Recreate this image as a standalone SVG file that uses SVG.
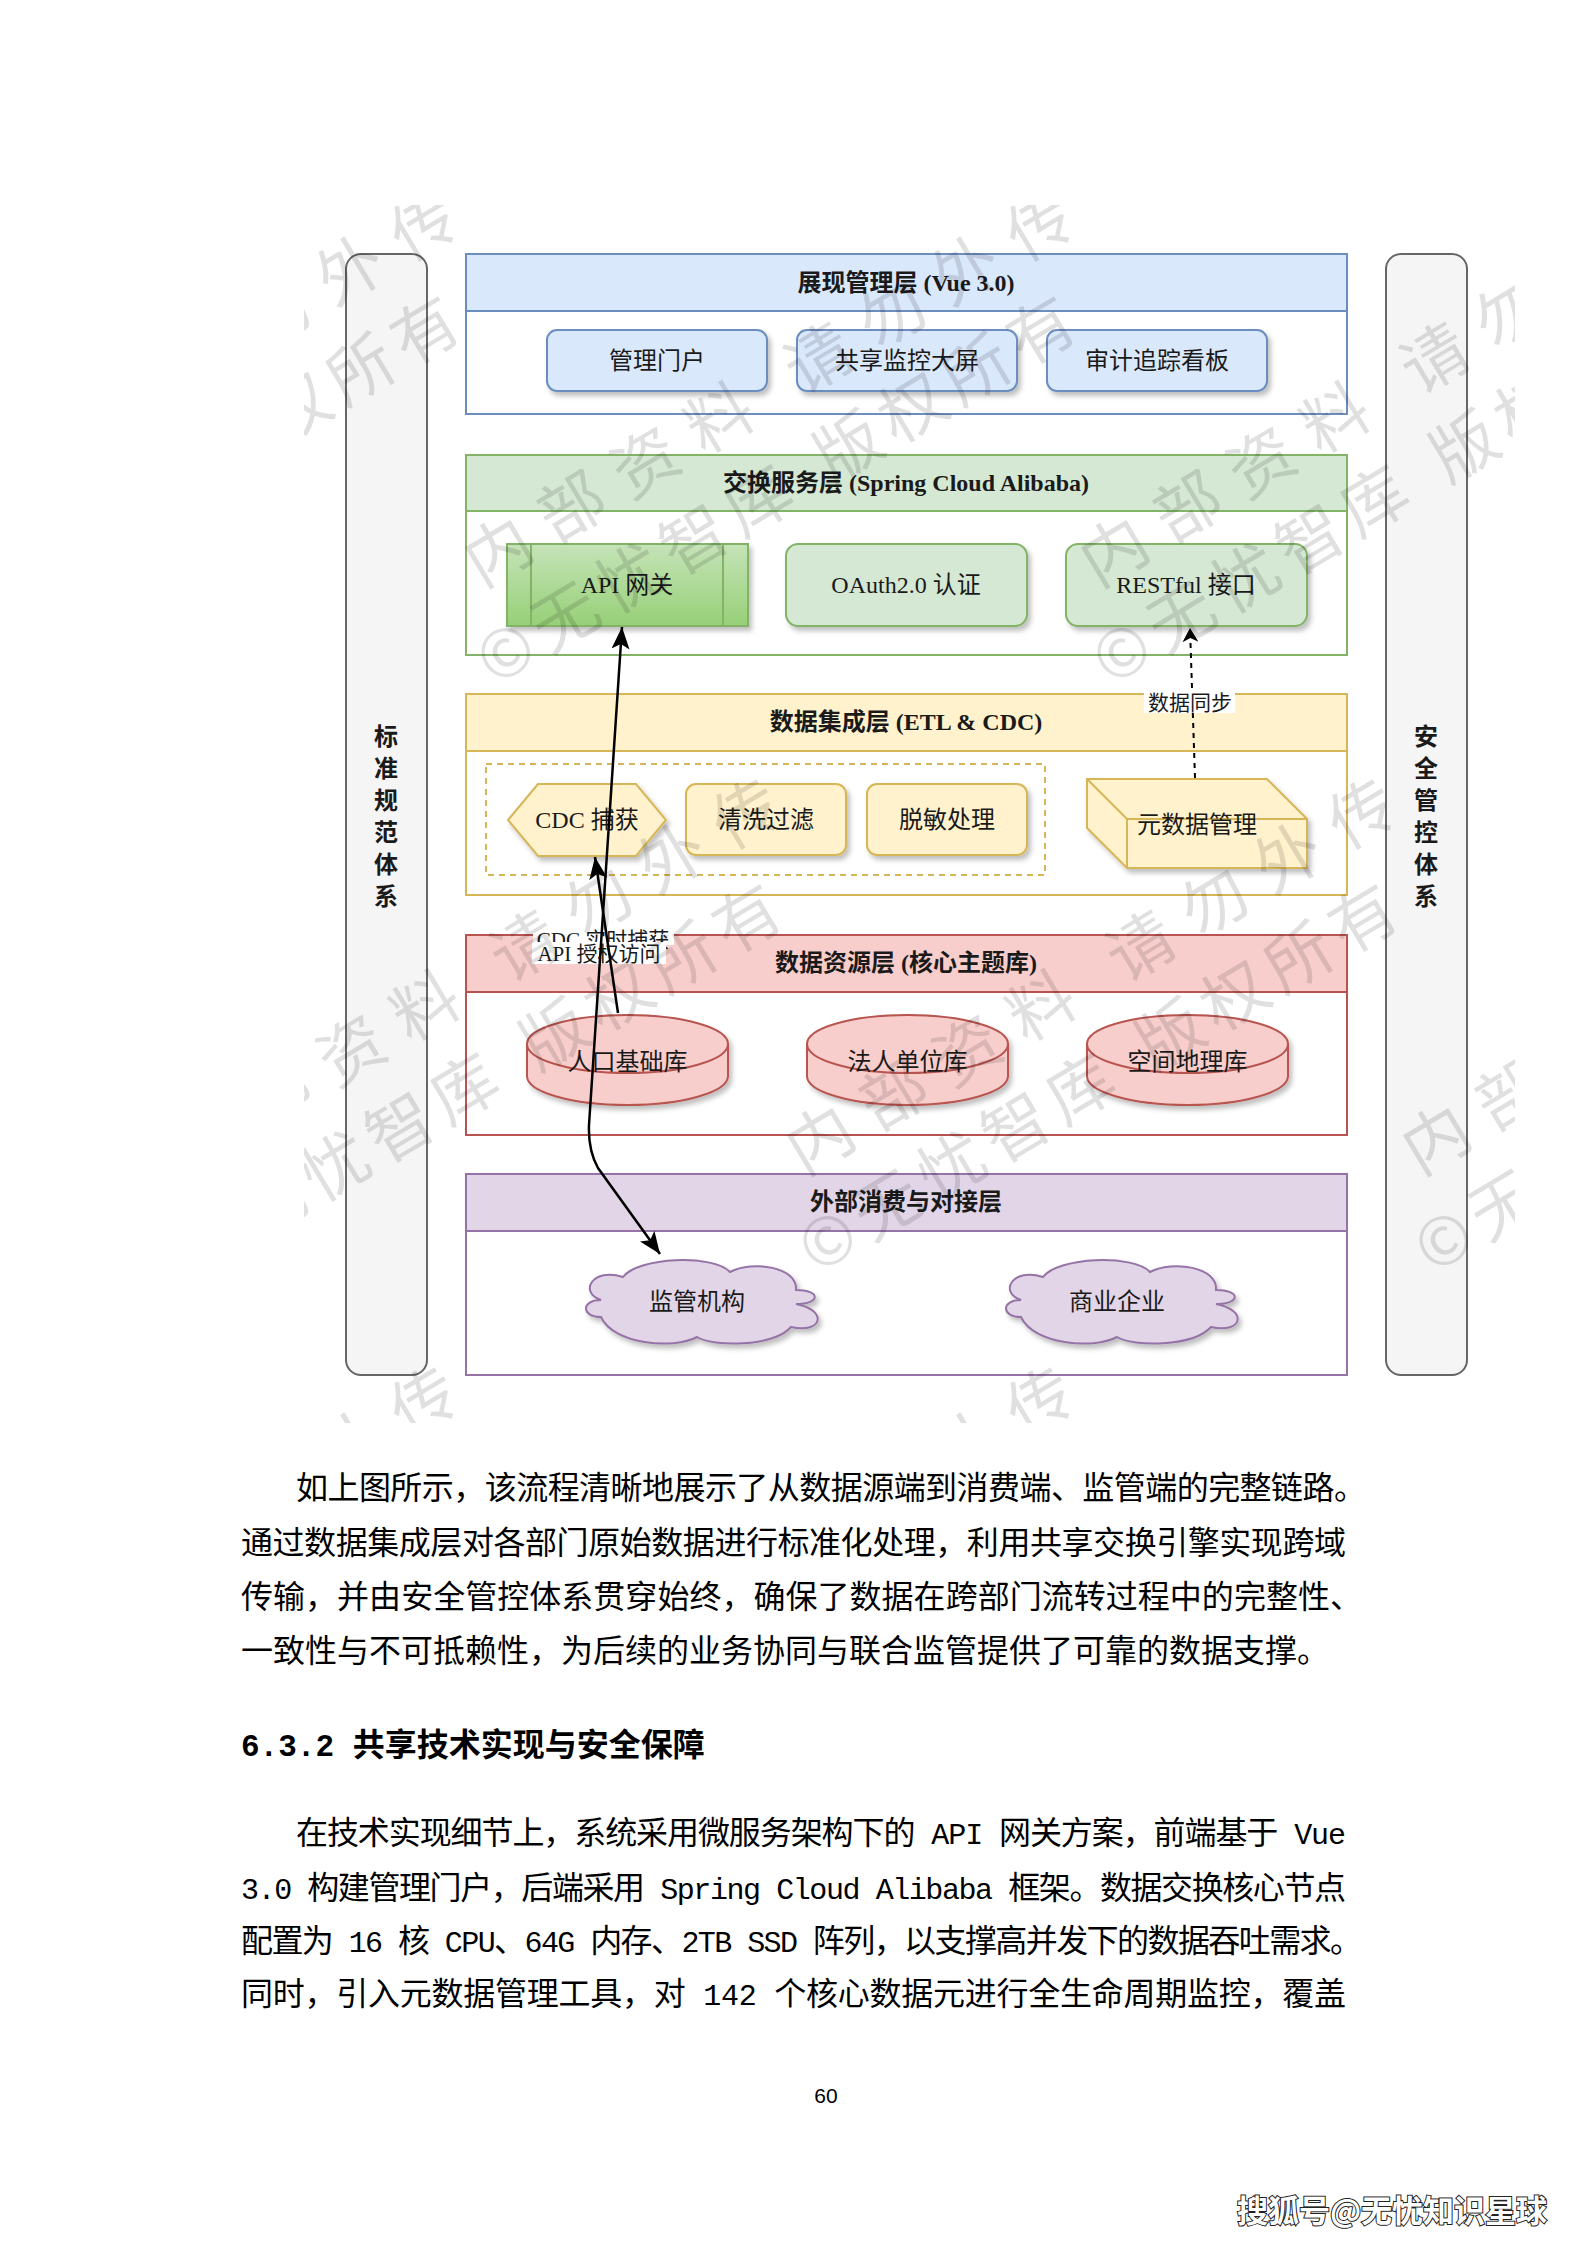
<svg xmlns="http://www.w3.org/2000/svg" xmlns:xlink="http://www.w3.org/1999/xlink" width="1587" height="2245" viewBox="0 0 1587 2245">
<defs>
<style>
.t{font-family:"Liberation Serif","Noto Sans CJK SC",serif;font-size:24px;fill:#1a1a1a;text-anchor:middle}
.tb{font-weight:bold}
.lbl{font-size:21px}
.side{font-family:"Noto Sans CJK SC",sans-serif;font-weight:bold;font-size:24px;fill:#1a1a1a;text-anchor:middle}
.body{font-family:"Noto Sans CJK SC",sans-serif;font-size:32px;fill:#000}
.mono{font-family:"Liberation Mono",monospace;font-size:30px}
.wm{font-family:"Noto Sans CJK SC",sans-serif;font-size:66px;fill:#000;fill-opacity:0.12}
.wmA{letter-spacing:20px}
.wmB{letter-spacing:9px}
.lay{stroke-width:2}
.blue{fill:#dae8fc;stroke:#6c8ebf}
.green{fill:#d5e8d4;stroke:#82b366}
.yellow{fill:#fff2cc;stroke:#d6b656}
.red{fill:#f8cecc;stroke:#b85450}
.purple{fill:#e1d5e7;stroke:#9673a6}
.node{stroke-width:2;filter:url(#sh)}
.edge{fill:none;stroke:#000;stroke-width:2.5}
</style>
<filter id="sh" x="-10%" y="-10%" width="130%" height="140%">
<feDropShadow dx="3" dy="4" stdDeviation="2.5" flood-color="#000" flood-opacity="0.25"/>
</filter>
<linearGradient id="gGreen" x1="0" y1="0" x2="0" y2="1">
<stop offset="0" stop-color="#c5e3b8"/>
<stop offset="1" stop-color="#97d077"/>
</linearGradient>
<marker id="arr" markerUnits="userSpaceOnUse" viewBox="0 0 22 18" refX="22" refY="9" markerWidth="22" markerHeight="18" orient="auto-start-reverse">
<path d="M0,0 L22,9 L0,18 L5,9 Z" fill="#000"/>
</marker>
<marker id="arrS" markerUnits="userSpaceOnUse" viewBox="0 0 14 16" refX="14" refY="8" markerWidth="14" markerHeight="16" orient="auto">
<path d="M0,0 L14,8 L0,16 L4,8 Z" fill="#000"/>
</marker>
<clipPath id="wmclip"><rect x="304" y="205" width="1211" height="1218"/></clipPath>
<g id="wm">
<text class="wm wmA" x="0" y="0">内部资料<tspan dx="30">请勿外传</tspan></text>
<text class="wm wmB" x="-40" y="91">©无忧智库<tspan dx="30">版权所有</tspan></text>
</g>
<path id="cloud" d="M40,15 C55,-5 130,-8 147,10 C170,-2 215,5 213,28 C238,28 238,42 213,42 C245,48 240,72 208,65 C190,85 130,85 114,75 C90,88 30,82 18,55 C-2,55 -2,38 18,38 C-5,30 10,5 40,15 Z"/>
<path id="cyl" d="M0,29 A100.5,29 0 0 1 201,29 L201,61 A100.5,29 0 0 1 0,61 Z"/>
</defs>
<rect x="0" y="0" width="1587" height="2245" fill="#fff"/>

<g id="side-standard">
<rect x="346" y="254" width="81" height="1121" rx="15" fill="#f5f5f5" stroke="#666" stroke-width="2"/>
<text class="side"><tspan x="386" y="745">标</tspan><tspan x="386" y="777">准</tspan><tspan x="386" y="809">规</tspan><tspan x="386" y="841">范</tspan><tspan x="386" y="873">体</tspan><tspan x="386" y="905">系</tspan></text>
</g>
<g id="side-security">
<rect x="1386" y="254" width="81" height="1121" rx="15" fill="#f5f5f5" stroke="#666" stroke-width="2"/>
<text class="side"><tspan x="1426" y="745">安</tspan><tspan x="1426" y="777">全</tspan><tspan x="1426" y="809">管</tspan><tspan x="1426" y="841">控</tspan><tspan x="1426" y="873">体</tspan><tspan x="1426" y="905">系</tspan></text>
</g>

<g id="layer-presentation">
<rect class="lay" x="466" y="254" width="881" height="160" fill="#fff" stroke="#6c8ebf"/>
<rect class="lay blue" x="466" y="254" width="881" height="57"/>
<text class="t tb" x="906" y="291">展现管理层 (Vue 3.0)</text>
</g>
<g id="node-portal"><rect class="node blue" x="547" y="330" width="220" height="61" rx="10"/><text class="t" x="657" y="369">管理门户</text></g>
<g id="node-monitor"><rect class="node blue" x="797" y="330" width="220" height="61" rx="10"/><text class="t" x="907" y="369">共享监控大屏</text></g>
<g id="node-audit"><rect class="node blue" x="1047" y="330" width="220" height="61" rx="10"/><text class="t" x="1157" y="369">审计追踪看板</text></g>

<g id="layer-exchange">
<rect class="lay" x="466" y="455" width="881" height="200" fill="#fff" stroke="#82b366"/>
<rect class="lay green" x="466" y="455" width="881" height="56"/>
<text class="t tb" x="906" y="491">交换服务层 (Spring Cloud Alibaba)</text>
</g>
<g id="node-gateway"><rect class="node" x="507" y="544" width="241" height="82" fill="url(#gGreen)" stroke="#82b366"/><path d="M531,544 V626 M723,544 V626" stroke="#82b366" stroke-width="2"/><text class="t" x="627" y="593">API 网关</text></g>
<g id="node-oauth"><rect class="node green" x="786" y="544" width="241" height="82" rx="12"/><text class="t" x="906" y="593">OAuth2.0 认证</text></g>
<g id="node-rest"><rect class="node green" x="1066" y="544" width="241" height="82" rx="12"/><text class="t" x="1186" y="593">RESTful 接口</text></g>

<g id="layer-integration">
<rect class="lay" x="466" y="694" width="881" height="201" fill="#fff" stroke="#d6b656"/>
<rect class="lay yellow" x="466" y="694" width="881" height="57"/>
<text class="t tb" x="906" y="730">数据集成层 (ETL &amp; CDC)</text>
<rect x="486" y="764" width="559" height="111" fill="none" stroke="#d6b656" stroke-width="2" stroke-dasharray="6,5"/>
</g>
<g id="node-cdc"><polygon class="node yellow" points="508,820 538,784 636,784 666,820 636,856 538,856"/><text class="t" x="587" y="828">CDC 捕获</text></g>
<g id="node-clean"><rect class="node yellow" x="686" y="784" width="160" height="71" rx="10"/><text class="t" x="766" y="828">清洗过滤</text></g>
<g id="node-mask"><rect class="node yellow" x="867" y="784" width="160" height="71" rx="10"/><text class="t" x="947" y="828">脱敏处理</text></g>
<g id="node-meta"><path class="node yellow" d="M1087,779 L1267,779 L1307,819 L1307,868 L1127,868 L1087,828 Z"/><path d="M1087,779 L1127,819 L1307,819 M1127,819 L1127,868" fill="none" stroke="#d6b656" stroke-width="2"/><text class="t" x="1197" y="833">元数据管理</text></g>

<g id="layer-resource">
<rect class="lay" x="466" y="935" width="881" height="200" fill="#fff" stroke="#b85450"/>
<rect class="lay red" x="466" y="935" width="881" height="57"/>
<text class="t tb" x="906" y="971">数据资源层 (核心主题库)</text>
</g>
<g id="node-population" transform="translate(527,1015)"><use xlink:href="#cyl" class="node red"/><path d="M0,29 A100.5,29 0 0 0 201,29" fill="none" stroke="#b85450" stroke-width="2"/><text class="t" x="100.5" y="55">人口基础库</text></g>
<g id="node-legal" transform="translate(807,1015)"><use xlink:href="#cyl" class="node red"/><path d="M0,29 A100.5,29 0 0 0 201,29" fill="none" stroke="#b85450" stroke-width="2"/><text class="t" x="100.5" y="55">法人单位库</text></g>
<g id="node-spatial" transform="translate(1087,1015)"><use xlink:href="#cyl" class="node red"/><path d="M0,29 A100.5,29 0 0 0 201,29" fill="none" stroke="#b85450" stroke-width="2"/><text class="t" x="100.5" y="55">空间地理库</text></g>

<g id="layer-consumer">
<rect class="lay" x="466" y="1174" width="881" height="201" fill="#fff" stroke="#9673a6"/>
<rect class="lay purple" x="466" y="1174" width="881" height="57"/>
<text class="t tb" x="906" y="1210">外部消费与对接层</text>
</g>
<g id="node-regulator" transform="translate(583,1262)"><use xlink:href="#cloud" class="node purple"/><text class="t" x="114" y="48">监管机构</text></g>
<g id="node-business" transform="translate(1003,1262)"><use xlink:href="#cloud" class="node purple"/><text class="t" x="114" y="48">商业企业</text></g>

<g id="connectors">
<path d="M1195,778 L1190,628" fill="none" stroke="#000" stroke-width="2" stroke-dasharray="5,5" marker-end="url(#arrS)"/>
<rect x="1144" y="692" width="91" height="21" fill="#fff"/>
<text class="t lbl" x="1190" y="710">数据同步</text>
<rect x="533" y="925" width="141" height="20" fill="#fff"/>
<text class="t lbl" x="603" y="947">CDC 实时捕获</text>
<rect x="532" y="942" width="134" height="22" fill="#fff"/>
<text class="t lbl" x="599" y="961">API 授权访问</text>
<path class="edge" d="M618,1013 L595,857" marker-end="url(#arr)"/>
<path class="edge" d="M622,627 L589,1125 Q588,1150 598,1168 L660,1254" marker-start="url(#arr)" marker-end="url(#arr)"/>
</g>

<g id="watermark" clip-path="url(#wmclip)">
<use xlink:href="#wm" transform="translate(-134,588.5) rotate(-31)"/>
<use xlink:href="#wm" transform="translate(482,588.5) rotate(-31)"/>
<use xlink:href="#wm" transform="translate(1098,588.5) rotate(-31)"/>
<use xlink:href="#wm" transform="translate(188,1176.5) rotate(-31)"/>
<use xlink:href="#wm" transform="translate(804,1176.5) rotate(-31)"/>
<use xlink:href="#wm" transform="translate(1420,1176.5) rotate(-31)"/>
<use xlink:href="#wm" transform="translate(-134,1764.5) rotate(-31)"/>
<use xlink:href="#wm" transform="translate(482,1764.5) rotate(-31)"/>
</g>

<g id="body-text">
<text class="body" x="296" y="1499" textLength="1070" lengthAdjust="spacing">如上图所示，该流程清晰地展示了从数据源端到消费端、监管端的完整链路。</text>
<text class="body" x="241" y="1554" textLength="1105" lengthAdjust="spacing">通过数据集成层对各部门原始数据进行标准化处理，利用共享交换引擎实现跨域</text>
<text class="body" x="241" y="1608" textLength="1121" lengthAdjust="spacing">传输，并由安全管控体系贯穿始终，确保了数据在跨部门流转过程中的完整性、</text>
<text class="body" x="241" y="1662">一致性与不可抵赖性，为后续的业务协同与联合监管提供了可靠的数据支撑。</text>
<text class="body" x="241" y="1756" font-weight="bold" font-size="34.5px"><tspan font-family="Liberation Mono" font-size="31px">6.3.2 </tspan>共享技术实现与安全保障</text>
<text class="body" x="296" y="1844" textLength="1050" lengthAdjust="spacing">在技术实现细节上，系统采用微服务架构下的<tspan class="mono"> API </tspan>网关方案，前端基于<tspan class="mono"> Vue</tspan></text>
<text class="body" x="241" y="1899" textLength="1105" lengthAdjust="spacing"><tspan class="mono">3.0 </tspan>构建管理门户，后端采用<tspan class="mono"> Spring Cloud Alibaba </tspan>框架。数据交换核心节点</text>
<text class="body" x="241" y="1952" textLength="1121" lengthAdjust="spacing">配置为<tspan class="mono"> 16 </tspan>核<tspan class="mono"> CPU</tspan>、<tspan class="mono">64G </tspan>内存、<tspan class="mono">2TB SSD </tspan>阵列，以支撑高并发下的数据吞吐需求。</text>
<text class="body" x="241" y="2005" textLength="1105" lengthAdjust="spacing">同时，引入元数据管理工具，对<tspan class="mono"> 142 </tspan>个核心数据元进行全生命周期监控，覆盖</text>
<text x="826" y="2103" font-family="Liberation Sans" font-size="21px" text-anchor="middle" fill="#000">60</text>
<text x="1392" y="2222" font-family="Noto Sans CJK SC" font-size="31px" font-weight="bold" text-anchor="middle" fill="#fff" stroke="#222" stroke-width="2" paint-order="stroke">搜狐号@无忧知识星球</text>
</g>
</svg>
